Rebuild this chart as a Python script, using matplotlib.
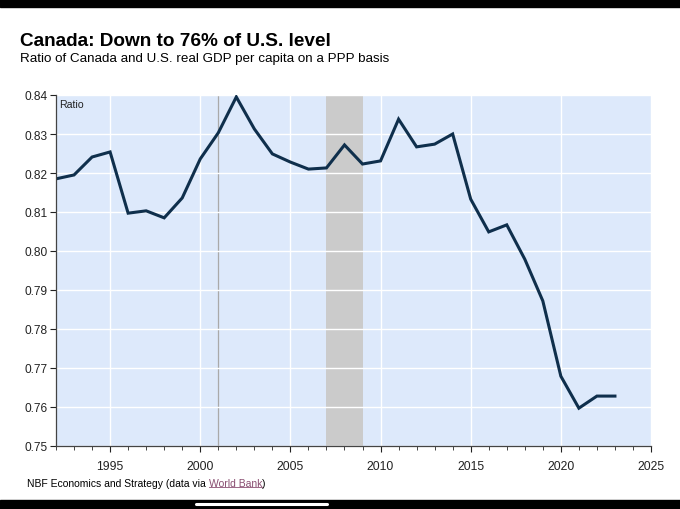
import matplotlib
matplotlib.use("Agg")
import matplotlib.pyplot as plt
from matplotlib.ticker import MultipleLocator, FormatStrFormatter
import matplotlib.lines as mlines

years = list(range(1992, 2024))
ratio = [0.8185, 0.8195, 0.8241, 0.8254, 0.8097, 0.8103, 0.8085, 0.8136,
         0.8236, 0.8303, 0.8395, 0.8313, 0.8249, 0.8228, 0.8210, 0.8213,
         0.8272, 0.8223, 0.8231, 0.8338, 0.8267, 0.8274, 0.8300, 0.8133,
         0.8049, 0.8067, 0.7979, 0.7872, 0.7679, 0.7597, 0.7628, 0.7628]
recession = (2007, 2009)
vline_year = 2001
x_ticks = [1995, 2000, 2005, 2010, 2015, 2020, 2025]
title = "Canada: Down to 76% of U.S. level"
subtitle = "Ratio of Canada and U.S. real GDP per capita on a PPP basis"

plt.rcParams['font.family'] = ['Liberation Sans', 'DejaVu Sans']

fig = plt.figure(figsize=(6.8, 5.1), dpi=100)
fig.patch.set_facecolor('white')

# phone screenshot bars
fig.add_artist(plt.Rectangle((0, 1 - 8/510), 1, 8/510, transform=fig.transFigure,
                             color='black', zorder=0))
fig.add_artist(plt.Rectangle((0, 0), 1, 9/510, transform=fig.transFigure,
                             color='black', zorder=0))
fig.add_artist(mlines.Line2D([196/680, 327/680], [5/510, 5/510], transform=fig.transFigure,
                             color='white', linewidth=2.2, solid_capstyle='round'))

ax = fig.add_axes([56/680, 1 - 447/510, (651 - 56)/680, (447 - 96)/510])
ax.set_facecolor('#dde9fb')

ax.axvspan(recession[0], recession[1], color='#cbcbcb', zorder=1, linewidth=0)
ax.axvline(vline_year, color='#a9a9a9', linewidth=0.9, zorder=1.5)

ax.plot(years, ratio, color='#0f2f4c', linewidth=2.2, zorder=3,
        solid_joinstyle='miter')

ax.set_xlim(1992, 2025)
ax.set_ylim(0.75, 0.84)
ax.set_xticks(x_ticks)
ax.xaxis.set_minor_locator(MultipleLocator(1))
ax.yaxis.set_major_locator(MultipleLocator(0.01))
ax.yaxis.set_major_formatter(FormatStrFormatter('%.2f'))

ax.grid(True, which='major', color='white', linewidth=1.0, zorder=2)
ax.set_axisbelow(False)
for gl in ax.get_xgridlines() + ax.get_ygridlines():
    gl.set_zorder(2)

for s in ['top', 'right']:
    ax.spines[s].set_visible(False)
for s in ['left', 'bottom']:
    ax.spines[s].set_color('#444444')
    ax.spines[s].set_linewidth(0.9)
    ax.spines[s].set_zorder(4)

ax.tick_params(axis='y', which='major', labelsize=8.6, colors='#222222',
               length=4, width=0.8, direction='out', pad=2)
ax.tick_params(axis='x', which='major', labelsize=8.8, colors='#222222',
               length=4, width=0.8, direction='out', pad=6)
ax.tick_params(axis='x', which='minor', length=3, width=0.7, colors='#444444')

ax.text(0.006, 0.99, "Ratio", transform=ax.transAxes, fontsize=7.6,
        va='top', ha='left', color='#222222', zorder=5)

fig.text(20/680, 1 - 42/510, title, fontsize=13.7, fontweight='bold',
         va='center', ha='left', color='black')
fig.text(20/680, 1 - 59/510, subtitle, fontsize=9.6,
         va='center', ha='left', color='black')

# footer with underlined link text
renderer = fig.canvas.get_renderer()
fy = 1 - 484/510
fs = 7.5
t1 = fig.text(27/680, fy, "NBF Economics and Strategy (data via ", fontsize=fs,
              va='center', ha='left', color='black')
bb1 = t1.get_window_extent(renderer)
x2 = bb1.x1 / fig.bbox.width
t2 = fig.text(x2, fy, "World Bank", fontsize=fs, va='center', ha='left', color='#8a4f72')
bb2 = t2.get_window_extent(renderer)
x3 = bb2.x1 / fig.bbox.width
fig.text(x3, fy, ")", fontsize=fs, va='center', ha='left', color='black')
uy = (bb2.y0 + 1) / fig.bbox.height
fig.add_artist(mlines.Line2D([bb2.x0 / fig.bbox.width, bb2.x1 / fig.bbox.width], [uy, uy],
                             transform=fig.transFigure, color='#8a4f72', linewidth=0.6))

fig.savefig('out.png', dpi=100, facecolor='white')
